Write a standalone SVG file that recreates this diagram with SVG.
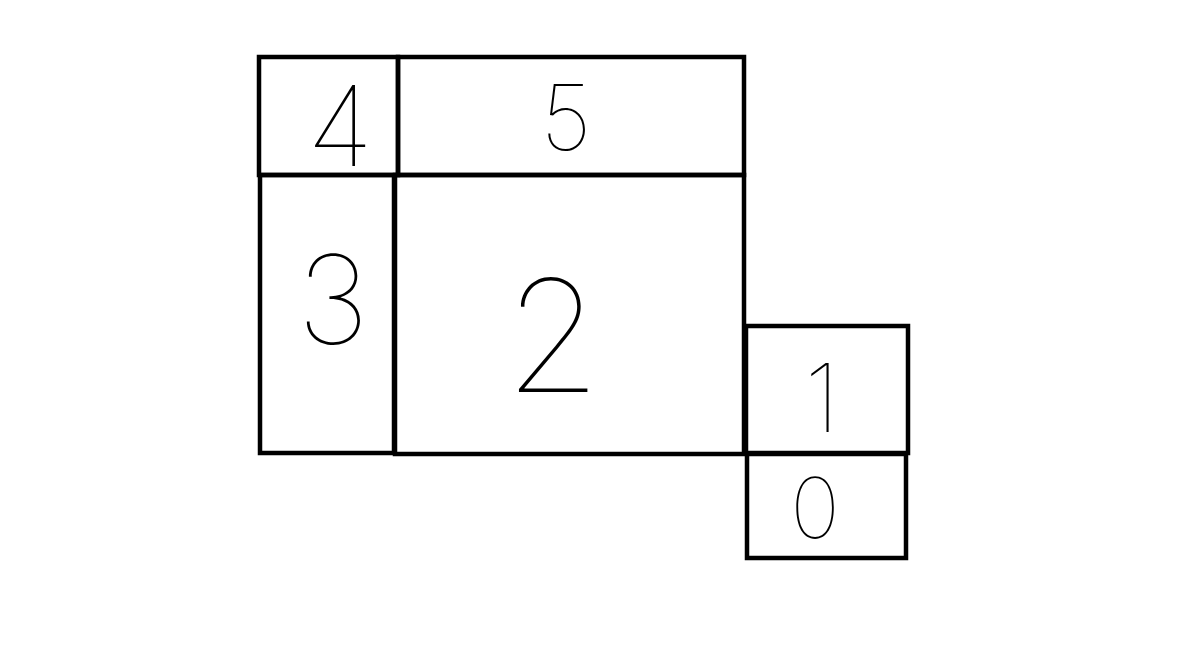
<svg xmlns="http://www.w3.org/2000/svg" width="1179" height="659" viewBox="0 0 1179 659">
<style>
.box{fill:none;stroke:#000;stroke-width:4.5}
.d{font-family:Inter,"DejaVu Sans","Liberation Sans",sans-serif;font-weight:100;fill:#000;text-anchor:middle}
</style>
<rect width="1179" height="659" fill="#fff"/>
<g id="n4"><rect class="box" x="259" y="57" width="139" height="118"/><text class="d" x="340" y="166" font-size="112">4</text></g>
<g id="n5"><rect class="box" x="398" y="57" width="346" height="118"/><text class="d" x="566" y="150" font-size="90">5</text></g>
<g id="n3"><rect class="box" x="260" y="175" width="134" height="278"/><text class="d" x="333" y="344" font-size="123">3</text></g>
<g id="n2"><rect class="box" x="395" y="175" width="349" height="279"/><text class="d" x="553" y="392" font-size="156">2</text></g>
<g id="n1"><rect class="box" x="746" y="326" width="162" height="127"/><text class="d" x="822" y="432" font-size="95">1</text></g>
<g id="n0"><rect class="box" x="747" y="454" width="159" height="104"/><text class="d" x="815" y="538" font-size="84">0</text></g>
<g id="connectors"></g>
</svg>
